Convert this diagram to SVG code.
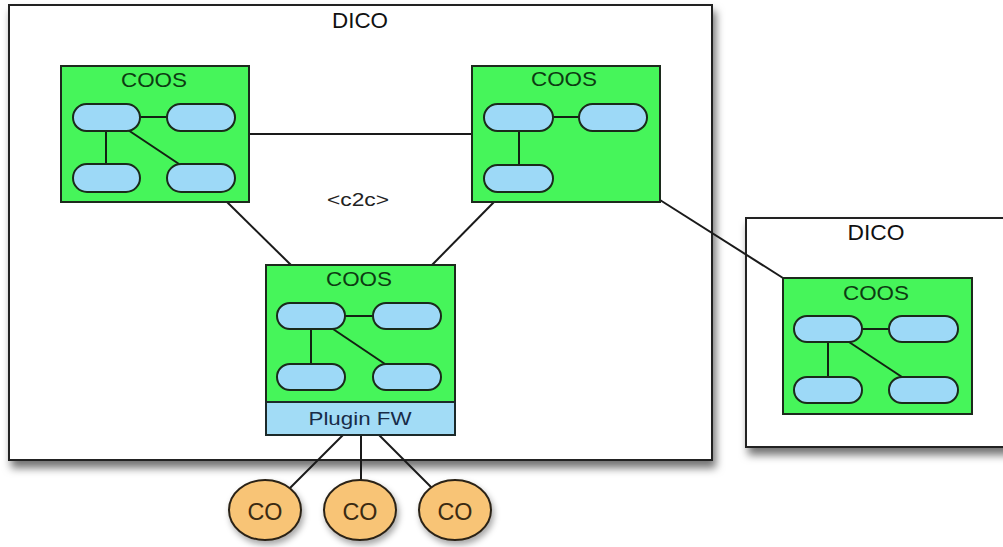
<svg xmlns="http://www.w3.org/2000/svg" width="1003" height="547" viewBox="0 0 1003 547">
<defs>
<filter id="shadow" x="-10%" y="-10%" width="130%" height="130%">
<feDropShadow dx="3" dy="7" stdDeviation="4.5" flood-color="#000" flood-opacity="0.55"/>
</filter>
<filter id="shadowS" x="-20%" y="-20%" width="150%" height="150%">
<feDropShadow dx="2" dy="4" stdDeviation="3" flood-color="#000" flood-opacity="0.35"/>
</filter>
<style>
.dico{fill:#fff;stroke:#222;stroke-width:2}
.coos{fill:#46f55a;stroke:#1c2a1c;stroke-width:2}
.pill{fill:#9dd9f7;stroke:#1a2a1a;stroke-width:2}
.in{stroke:#122212;stroke-width:2;fill:none}
.con{stroke:#1a1a1a;stroke-width:2;fill:none}
.plug{fill:#a2dcf6;stroke:#1c2a2a;stroke-width:2}
.co{fill:#f8c476;stroke:#2a2216;stroke-width:2}
.t{font-family:"Liberation Sans",Arial,sans-serif;text-anchor:middle}
.tD{font-size:22px;fill:#111}
.tC{font-size:21px;fill:#0d3b12}
.tP{font-size:19px;fill:#182c48}
.tO{font-size:23px;fill:#3a2a12}
.tL{font-size:18px;fill:#222}
</style>
</defs>

<g id="dico-main">
<rect class="dico" x="9" y="5" width="703" height="455" filter="url(#shadow)"/>
<text class="t tD" x="360" y="28" textLength="56" lengthAdjust="spacingAndGlyphs">DICO</text>
<text class="t tL" x="358" y="206" textLength="62" lengthAdjust="spacingAndGlyphs">&lt;c2c&gt;</text>
</g>

<g id="dico-right">
<rect class="dico" x="746" y="218" width="275" height="229" filter="url(#shadow)"/>
<text class="t tD" x="876" y="240" textLength="57" lengthAdjust="spacingAndGlyphs">DICO</text>
</g>

<g id="connectors">
<line class="con" x1="249" y1="134" x2="472" y2="134"/>
<line class="con" x1="227" y1="202" x2="291" y2="265"/>
<line class="con" x1="494" y1="202" x2="432" y2="265"/>
<line class="con" x1="660" y1="200" x2="783" y2="278"/>
<line class="con" x1="343" y1="435" x2="290" y2="488"/>
<line class="con" x1="361" y1="435" x2="361" y2="480"/>
<line class="con" x1="379" y1="435" x2="432" y2="488"/>
</g>

<g id="coos-topleft">
<rect class="coos" x="61" y="66" width="188" height="136"/>
<text class="t tC" x="154" y="87" textLength="66" lengthAdjust="spacingAndGlyphs">COOS</text>
<line class="in" x1="140" y1="117" x2="167" y2="117"/>
<line class="in" x1="106" y1="131" x2="106" y2="164"/>
<line class="in" x1="128" y1="130" x2="179" y2="164"/>
<rect class="pill" x="73" y="104" width="67" height="27" rx="13.5"/>
<rect class="pill" x="167" y="104" width="68" height="27" rx="13.5"/>
<rect class="pill" x="73" y="164" width="67" height="28" rx="14"/>
<rect class="pill" x="167" y="164" width="68" height="28" rx="14"/>
</g>

<g id="coos-topright">
<rect class="coos" x="472" y="66" width="188" height="136"/>
<text class="t tC" x="564" y="86" textLength="66" lengthAdjust="spacingAndGlyphs">COOS</text>
<line class="in" x1="553" y1="117" x2="579" y2="117"/>
<line class="in" x1="519" y1="131" x2="519" y2="165"/>
<rect class="pill" x="484" y="104" width="69" height="27" rx="13.5"/>
<rect class="pill" x="579" y="104" width="68" height="27" rx="13.5"/>
<rect class="pill" x="484" y="165" width="69" height="27" rx="13.5"/>
</g>

<g id="coos-bottom">
<rect class="coos" x="266" y="265" width="189" height="137"/>
<text class="t tC" x="359" y="286" textLength="66" lengthAdjust="spacingAndGlyphs">COOS</text>
<line class="in" x1="345" y1="316" x2="373" y2="316"/>
<line class="in" x1="311" y1="329" x2="311" y2="364"/>
<line class="in" x1="333" y1="329" x2="385" y2="364"/>
<rect class="pill" x="277" y="303" width="68" height="26" rx="13"/>
<rect class="pill" x="373" y="303" width="68" height="26" rx="13"/>
<rect class="pill" x="277" y="364" width="68" height="26" rx="13"/>
<rect class="pill" x="373" y="364" width="68" height="26" rx="13"/>
</g>

<g id="plugin-fw">
<rect class="plug" x="266" y="402" width="189" height="33"/>
<text class="t tP" x="360" y="425" textLength="103" lengthAdjust="spacingAndGlyphs">Plugin FW</text>
</g>

<g id="coos-right">
<rect class="coos" x="783" y="278" width="189" height="136"/>
<text class="t tC" x="876" y="300" textLength="66" lengthAdjust="spacingAndGlyphs">COOS</text>
<line class="in" x1="862" y1="329" x2="889" y2="329"/>
<line class="in" x1="828" y1="342" x2="828" y2="377"/>
<line class="in" x1="849" y1="342" x2="902" y2="377"/>
<rect class="pill" x="794" y="316" width="68" height="26" rx="13"/>
<rect class="pill" x="889" y="316" width="69" height="26" rx="13"/>
<rect class="pill" x="794" y="377" width="68" height="26" rx="13"/>
<rect class="pill" x="889" y="377" width="69" height="26" rx="13"/>
</g>

<g id="co-1">
<ellipse class="co" cx="265" cy="510" rx="36" ry="30" filter="url(#shadowS)"/>
<text class="t tO" x="265" y="520" textLength="35" lengthAdjust="spacingAndGlyphs">CO</text>
</g>
<g id="co-2">
<ellipse class="co" cx="360" cy="510" rx="36" ry="30" filter="url(#shadowS)"/>
<text class="t tO" x="360" y="520" textLength="35" lengthAdjust="spacingAndGlyphs">CO</text>
</g>
<g id="co-3">
<ellipse class="co" cx="455" cy="510" rx="36" ry="30" filter="url(#shadowS)"/>
<text class="t tO" x="455" y="520" textLength="35" lengthAdjust="spacingAndGlyphs">CO</text>
</g>
</svg>
